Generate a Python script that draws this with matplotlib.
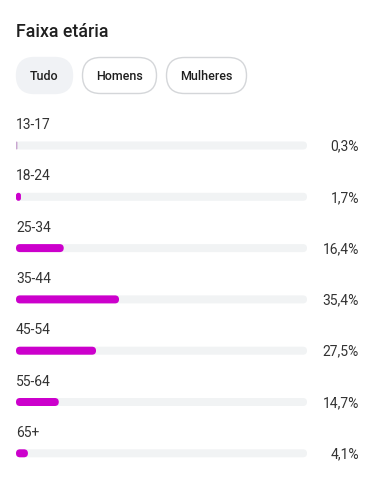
import matplotlib
matplotlib.use("Agg")
import matplotlib.pyplot as plt
from matplotlib.patches import FancyBboxPatch

plt.rcParams['font.family'] = ['Roboto', 'DejaVu Sans']

title = "Faixa etária"
filters = ["Tudo", "Homens", "Mulheres"]
categories = ["13-17", "18-24", "25-34", "35-44", "45-54", "55-64", "65+"]
values = [0.3, 1.7, 16.4, 35.4, 27.5, 14.7, 4.1]
value_labels = ["0,3%", "1,7%", "16,4%", "35,4%", "27,5%", "14,7%", "4,1%"]

W, H = 375, 490
fig = plt.figure(figsize=(W / 100, H / 100), dpi=100)
fig.patch.set_facecolor("white")

# Pixel-coordinate overlay for title and buttons
ax0 = fig.add_axes([0, 0, 1, 1])
ax0.set_xlim(0, W)
ax0.set_ylim(H, 0)
ax0.axis("off")

ax0.text(16, 32, title, fontsize=12.8, color="#1f1f1f", ha="left", va="center",
         fontweight="medium")

btn_x = [(16, 73), (82, 157), (166, 247)]
btn_y0, btn_y1 = 57, 94
for (x0, x1), name, active in zip(btn_x, filters, [True, False, False]):
    r = (btn_y1 - btn_y0) / 2
    p = FancyBboxPatch((x0 + r, btn_y0 + r), (x1 - x0) - 2 * r, 0,
                       boxstyle=f"round,pad={r - 0.5}",
                       facecolor="#f0f2f5" if active else "white",
                       edgecolor="#f0f2f5" if active else "#d4d6d9",
                       linewidth=1.0)
    ax0.add_patch(p)
    ax0.text((x0 + x1) / 2, (btn_y0 + btn_y1) / 2 + 0.5, name, fontsize=9,
             color="#1f1f1f", ha="center", va="center", fontweight="medium")

# Bar axes: x in percent, y in row units
left_px, right_px = 16, 307
first_row_px, row_px = 145.5, 51.3
ax = fig.add_axes([left_px / W, 0, (right_px - left_px) / W, 1])
ax.set_xlim(0, 100)
ax.set_ylim((H - first_row_px) / row_px, -first_row_px / row_px)
ax.axis("off")
ax.patch.set_alpha(0)

xu = 100 / (right_px - left_px)   # x units per px
yu = 1 / row_px                   # y units per px
m = yu / xu
bar_h_px = 8
rad = bar_h_px / 2 * xu

def rbar(x0, w, y, color):
    r = min(rad, w / 2)
    h = bar_h_px * yu
    p = FancyBboxPatch((x0, y - h / 2), w, h,
                       boxstyle=f"round,pad=0,rounding_size={r}",
                       mutation_aspect=m, facecolor=color, edgecolor="none",
                       linewidth=0)
    ax.add_patch(p)

for i, (cat, v, lab) in enumerate(zip(categories, values, value_labels)):
    rbar(0, 100, i, "#f1f3f4")
    rbar(0, max(v, 0.5), i, "#cc00cc" if v >= 1 else "#c9a6d0")
    ax.text(0, i - 20.5 * yu, cat, fontsize=10, color="#333333",
            ha="left", va="center")
    ax.text(100 + (359 - right_px) * xu, i + 1 * yu, lab, fontsize=10,
            color="#333333", ha="right", va="center", clip_on=False)

fig.savefig("out.png", dpi=100, facecolor="white")
